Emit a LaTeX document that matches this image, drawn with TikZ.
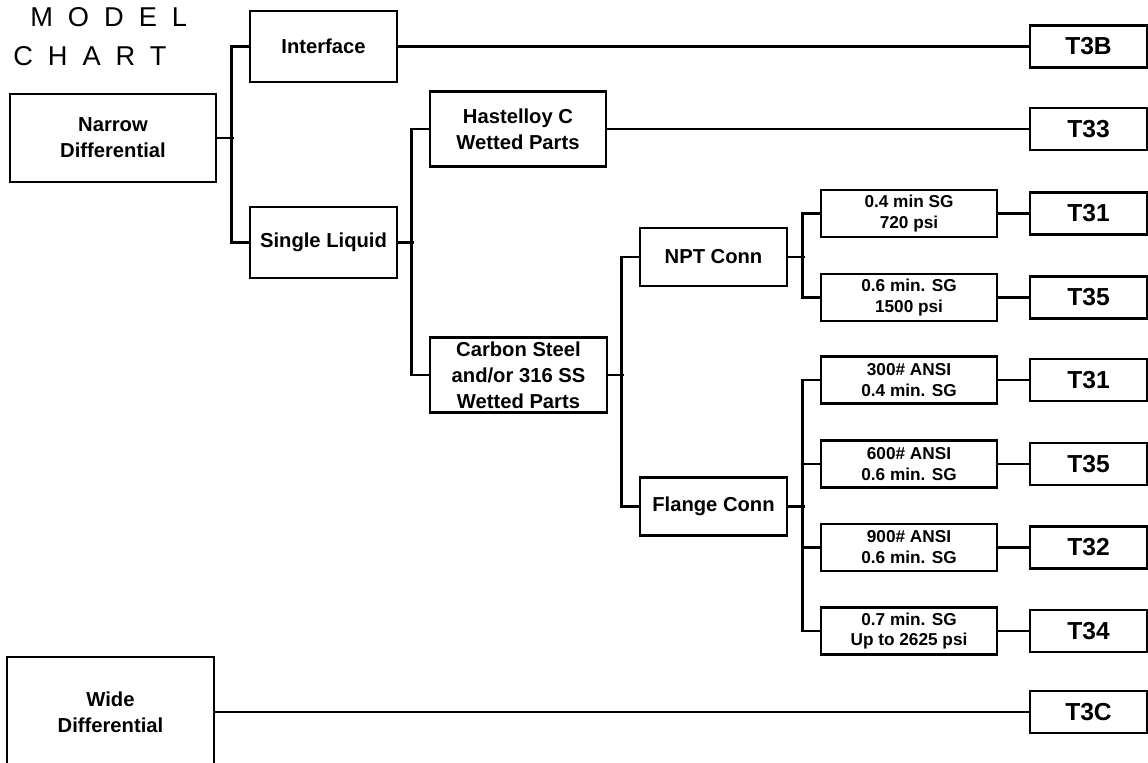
\documentclass[tikz,border=0pt]{standalone}
\usepackage{fontspec}
\setmainfont{Liberation Sans}
\newfontfamily\titlefont[LetterSpace=55]{Liberation Sans}
\usetikzlibrary{positioning}
\tikzset{
    box/.style={draw, line width=1.5pt, align=center, inner sep=0pt, font=\bfseries\fontsize{11.5}{14.7}\selectfont},
    optbox/.style={box, minimum width=3.52cm, minimum height=0.94cm, font=\bfseries\fontsize{9.8}{11.9}\selectfont},
    modelbox/.style={box, minimum width=2.34cm, minimum height=0.84cm, font=\bfseries\fontsize{14}{16}\selectfont},
    link/.style={line width=1.5pt},
}

\begin{document}
\begin{tikzpicture}[x=0.02cm, y=-0.02cm]
    \useasboundingbox (0,0) rectangle (1148,763);
    % Titolo
    \node[anchor=base west, inner sep=0pt, font=\titlefont\fontsize{15.5}{17}\selectfont] (model) at (30,27) {MODEL};
    \node[anchor=base west, inner sep=0pt, font=\titlefont\fontsize{15.5}{17}\selectfont] (chart) at (13,66) {CHART};

    % Rami principali
    \node[box, minimum width=4.12cm, minimum height=1.76cm] (narrow) at (113,138) {Narrow\\Differential};
    \node[box, minimum width=2.94cm, minimum height=1.42cm] (interface) at (323.5,46.5) {Interface};
    \node[box, minimum width=2.94cm, minimum height=1.42cm] (single) at (323.5,242.5) {Single Liquid};
    \node[box, minimum width=3.52cm, minimum height=1.5cm] (hastelloy) at (518,129) {Hastelloy C\\Wetted Parts};
    \node[box, minimum width=3.54cm, minimum height=1.5cm] (carbon) at (518.5,375) {Carbon Steel\\and/or 316 SS\\Wetted Parts};
    \node[box, minimum width=2.94cm, minimum height=1.16cm] (npt) at (713.5,257) {NPT Conn};
    \node[box, minimum width=2.94cm, minimum height=1.16cm] (flange) at (713.5,506.5) {Flange Conn};
    \node[box, minimum width=4.14cm, minimum height=2.2cm] (wide) at (110.5,712) {Wide\\Differential};

    % Opzioni
    \node[optbox] (npta) at (909,213.5) {0.4 min SG\\720 psi};
    \node[optbox] (nptb) at (909,297.5) {0.6 min. SG\\1500 psi};
    \node[optbox] (flga) at (909,380) {300\# ANSI\\0.4 min. SG};
    \node[optbox] (flgb) at (909,464) {600\# ANSI\\0.6 min. SG};
    \node[optbox] (flgc) at (909,547.5) {900\# ANSI\\0.6 min. SG};
    \node[optbox] (flgd) at (909,631) {0.7 min. SG\\Up to 2625 psi};

    % Modelli
    \node[modelbox] (tb) at (1088.5,46.5) {T3B};
    \node[modelbox] (tt) at (1088.5,129) {T33};
    \node[modelbox] (ta) at (1088.5,213.5) {T31};
    \node[modelbox] (tc) at (1088.5,297.5) {T35};
    \node[modelbox] (td) at (1088.5,380) {T31};
    \node[modelbox] (te) at (1088.5,464) {T35};
    \node[modelbox] (tf) at (1088.5,547.5) {T32};
    \node[modelbox] (tg) at (1088.5,631) {T34};
    \node[modelbox] (tw) at (1088.5,712) {T3C};

    % Parentesi
    \draw[link] (narrow.east) -- ++(17,0);
    \draw[link] (interface.west) -- ++(-17,0) |- (single.west);
    \draw[link] (single.east) -- ++(16,0);
    \draw[link] (hastelloy.west) -- ++(-17,0) |- (carbon.west);
    \draw[link] (carbon.east) -- ++(16,0);
    \draw[link] (npt.west) -- ++(-17,0) |- (flange.west);
    \draw[link] (npt.east) -- ++(17,0);
    \draw[link] (npta.west) -- ++(-17,0) |- (nptb.west);
    \draw[link] (flange.east) -- ++(17,0);
    \draw[link] (flga.west) -- ++(-17,0) |- (flgd.west);
    \draw[link] (flgb.west) -- ++(-17,0);
    \draw[link] (flgc.west) -- ++(-17,0);

    % Collegamenti ai modelli
    \draw[link] (interface.east) -- (tb.west);
    \draw[link] (hastelloy.east) -- (tt.west);
    \draw[link] (npta.east) -- (ta.west);
    \draw[link] (nptb.east) -- (tc.west);
    \draw[link] (flga.east) -- (td.west);
    \draw[link] (flgb.east) -- (te.west);
    \draw[link] (flgc.east) -- (tf.west);
    \draw[link] (flgd.east) -- (tg.west);
    \draw[link] (wide.east) -- (tw.west);
\end{tikzpicture}
\end{document}
